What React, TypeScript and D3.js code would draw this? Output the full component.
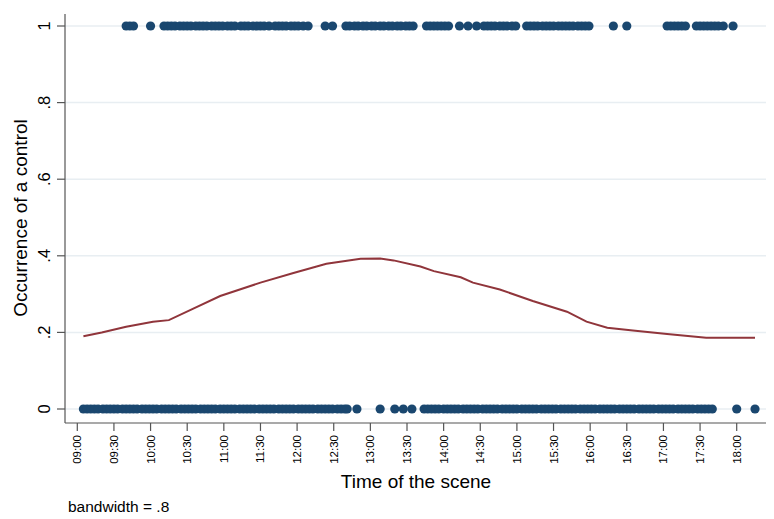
import * as d3 from "d3";

// times are minutes after 09:00
const controlTimes: number[] = [
  40, 43, 46, 60,
  71, 74, 77, 80, 84, 87, 90, 93, 97, 100, 103, 106, 110, 113, 116, 119, 123, 126, 129, 134, 137, 140,
  144, 147, 150, 153, 157, 162, 165, 168, 171, 175, 178, 181, 185, 189,
  203, 209,
  220, 223, 227, 230, 234, 237, 241, 244, 248, 251, 255, 258, 262, 265, 269, 272, 275,
  286, 289, 292, 295, 298, 301, 304,
  313, 320, 327,
  333, 336, 339, 342, 346, 349, 352, 356, 359,
  368, 371, 374, 377, 381, 384, 387, 390, 394, 397, 400, 403, 406, 410, 413, 416, 419,
  439, 450,
  483, 486, 489, 492, 495, 498,
  507, 510, 513, 516, 519, 522, 525, 529, 537,
];

const noControlTimes: number[] = [
  5, 8, 11, 14, 17, 21, 24, 27, 30, 33, 37, 40, 43, 46, 49, 53, 56, 59, 62, 65, 69, 72, 75, 78, 81,
  85, 88, 91, 94, 97, 101, 104, 107, 110, 113, 117, 120, 123, 126, 129, 133, 136, 139, 142, 145, 149,
  152, 155, 158, 161, 165, 168, 171, 174, 177, 181, 184, 187, 190, 193, 197, 200, 203, 206, 209, 213,
  216, 219, 221,
  229, 248, 260, 267, 274,
  284, 287, 290, 293, 296, 300, 303, 306, 309, 312, 316, 319, 322, 325, 328, 332, 335, 338, 341, 344,
  348, 351, 354, 357, 360, 364, 367, 370, 373, 376, 380, 383, 386, 389, 392, 396, 399, 402, 405, 408,
  412, 415, 418, 421, 424, 428, 431, 434, 437, 440, 444, 447, 450, 453, 456, 460, 463, 466, 469, 472,
  476, 479, 482, 485, 488, 492, 495, 498, 501, 504, 508, 511, 514, 517, 520,
  540, 555,
];

// lowess fit
const smoothTimes: number[] = [5, 20, 40, 62, 75, 95, 117, 150, 177, 204, 232, 248, 259, 281, 292, 314, 324, 346, 373, 401, 417, 434, 455, 483, 515, 555];
const smoothValues: number[] = [0.19, 0.2, 0.215, 0.228, 0.232, 0.262, 0.295, 0.33, 0.355, 0.379, 0.392, 0.393, 0.388, 0.372, 0.36, 0.344, 0.33, 0.312, 0.282, 0.254, 0.228, 0.212, 0.205, 0.196, 0.186, 0.186];

const tickMinutes: number[] = [0, 30, 60, 90, 120, 150, 180, 210, 240, 270, 300, 330, 360, 390, 420, 450, 480, 510, 540];
const tickLabels: string[] = ["09:00", "09:30", "10:00", "10:30", "11:00", "11:30", "12:00", "12:30", "13:00", "13:30", "14:00", "14:30", "15:00", "15:30", "16:00", "16:30", "17:00", "17:30", "18:00"];
const yTicks: number[] = [0, 0.2, 0.4, 0.6, 0.8, 1];
const yTickLabels: string[] = ["0", ".2", ".4", ".6", ".8", "1"];

const font = "'Liberation Sans', Arial, sans-serif";

export default function App() {
  const width = 774;
  const height = 519;
  const left = 65;
  const right = 766;
  const bottom = 423;
  const top = 14;

  const x = d3.scaleLinear().domain([0, 540]).range([77.3, 736.7]);
  const y = d3.scaleLinear().domain([0, 1]).range([409, 26]);

  const line = d3
    .line<number>()
    .x((d) => x(d))
    .y((d, i) => y(smoothValues[i]));

  return (
    <svg width={width} height={height} style={{ position: "absolute", left: 0, top: 0 }} fontFamily={font}>
      <rect width={width} height={height} fill="#fff" />
      {yTicks.map((t) => (
        <line key={"g" + t} x1={left} x2={right} y1={y(t)} y2={y(t)} stroke="#e8eef2" strokeWidth={1.5} />
      ))}
      {noControlTimes.map((t, i) => (
        <circle key={"n" + i} cx={x(t)} cy={y(0)} r={4.6} fill="#1a476f" />
      ))}
      {controlTimes.map((t, i) => (
        <circle key={"c" + i} cx={x(t)} cy={y(1)} r={4.6} fill="#1a476f" />
      ))}
      <path d={line(smoothTimes) ?? ""} fill="none" stroke="#90353b" strokeWidth={2} />
      <line x1={left} x2={left} y1={top} y2={bottom} stroke="#555" strokeWidth={1.2} />
      <line x1={left} x2={right} y1={bottom} y2={bottom} stroke="#555" strokeWidth={1.2} />
      {yTicks.map((t, i) => (
        <g key={"yt" + t}>
          <line x1={left - 8} x2={left} y1={y(t)} y2={y(t)} stroke="#555" strokeWidth={1.2} />
          <text
            transform={`translate(50,${y(t)}) rotate(-90)`}
            textAnchor="middle"
            fontSize={16.5}
            fill="#000"
          >
            {yTickLabels[i]}
          </text>
        </g>
      ))}
      {tickMinutes.map((t, i) => (
        <g key={"xt" + t}>
          <line x1={x(t)} x2={x(t)} y1={bottom} y2={bottom + 8} stroke="#555" strokeWidth={1.2} />
          <text
            transform={`translate(${x(t)},435) rotate(-90)`}
            textAnchor="end"
            dy="0.35em"
            fontSize={11.5}
            fill="#000"
          >
            {tickLabels[i]}
          </text>
        </g>
      ))}
      <text transform="translate(27,218) rotate(-90)" textAnchor="middle" fontSize={19}>
        Occurrence of a control
      </text>
      <text x={416} y={488} textAnchor="middle" fontSize={19}>
        Time of the scene
      </text>
      <text x={68} y={512} fontSize={15.5}>
        bandwidth = .8
      </text>
    </svg>
  );
}
